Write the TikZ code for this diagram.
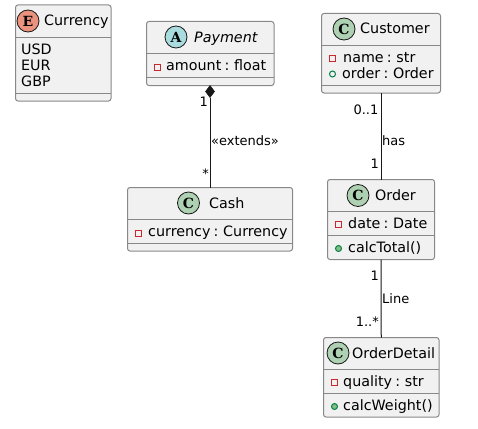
\documentclass[tikz,border=0pt]{standalone}
\usepackage{fontspec}
\setmainfont{DejaVu Sans}[WordSpace=0.7]
\newfontfamily\iconfont{DejaVu Serif}
\usetikzlibrary{shapes.geometric}
\definecolor{boxfill}{RGB}{241,241,241}
\definecolor{boxline}{RGB}{136,136,136}
\definecolor{inkline}{RGB}{24,24,24}
\definecolor{enumicon}{RGB}{235,147,127}
\definecolor{absicon}{RGB}{169,220,223}
\definecolor{classicon}{RGB}{173,209,178}
\definecolor{privred}{RGB}{200,41,48}
\definecolor{pubgreen}{RGB}{3,128,72}
\definecolor{pubfill}{RGB}{132,190,132}
\tikzset{
  classbox/.style={draw=boxline,fill=boxfill,line width=1pt,rounded corners=2.5pt,inner sep=0pt,outer sep=0pt},
  divider/.style={draw=boxline,line width=1pt},
  icon/.style={circle,draw=inkline,line width=0.8pt,minimum size=22pt,inner sep=0pt,font=\iconfont\bfseries\fontsize{14}{16}\selectfont},
  title/.style={anchor=base west,inner sep=0pt,font=\fontsize{14.3}{16}\selectfont,text=black},
  member/.style={title},
  tag/.style={anchor=base east,inner sep=0pt,font=\fontsize{13}{15}\selectfont,text=black},
  linktext/.style={anchor=base west,inner sep=0pt,font=\fontsize{13}{15}\selectfont,text=black},
  privmark/.style={rectangle,draw=privred,line width=1pt,minimum size=6pt,inner sep=0pt},
  pubmark/.style={circle,draw=pubgreen,line width=1pt,minimum size=6pt,inner sep=0pt},
  methmark/.style={pubmark,fill=pubfill},
  link/.style={draw=inkline,line width=1pt},
}
\begin{document}
\begin{tikzpicture}[x=1pt,y=-1pt]
  \useasboundingbox (0,0) rectangle (478,428);
  % enum
  \node[classbox,minimum width=95.5pt,minimum height=96pt] (currency) at (63.25,53) {};
  \draw[divider] (15.5,37.5) -- (111,37.5);
  \draw[divider] (15.5,93) -- (111,93);
  \node[icon,fill=enumicon] (currencyicon) at (28,21) {E};
  \node[title] (currencyname) at (44,26) {Currency};
  \node[member] (usd) at (21,54) {USD};
  \node[member] (eur) at (21,70.3) {EUR};
  \node[member] (gbp) at (21,86.7) {GBP};
  % abstract class
  \node[classbox,minimum width=127.5pt,minimum height=64pt] (payment) at (210.25,53.5) {};
  \draw[divider] (146.5,53.5) -- (274,53.5);
  \draw[divider] (146.5,77) -- (274,77);
  \node[icon,fill=absicon] (paymenticon) at (176,37) {A};
  \node[title,font=\itshape\fontsize{14.3}{16}\selectfont] (paymentname) at (194,42) {Payment};
  \node[privmark] (amountmark) at (157.5,67.5) {};
  \node[member] (amount) at (166,70) {amount : float};
  % cash
  \node[classbox,minimum width=165pt,minimum height=63.5pt] (cash) at (210,219.25) {};
  \draw[divider] (127.5,219.5) -- (292.5,219.5);
  \draw[divider] (127.5,243.5) -- (292.5,243.5);
  \node[icon,fill=classicon] (cashicon) at (188.5,203) {C};
  \node[title] (cashname) at (209,208) {Cash};
  \node[privmark] (cashmark) at (138.5,233.5) {};
  \node[member] (cashcurrency) at (148,236.7) {currency : Currency};
  % customer
  \node[classbox,minimum width=119pt,minimum height=79.5pt] (customer) at (381,53.25) {};
  \draw[divider] (321.5,45.5) -- (440.5,45.5);
  \draw[divider] (321.5,85) -- (440.5,85);
  \node[icon,fill=classicon] (customericon) at (344,29) {C};
  \node[title] (customername) at (360,34) {Customer};
  \node[privmark] (namemark) at (332.5,58.5) {};
  \node[member] (name) at (343,62) {name : str};
  \node[pubmark] (ordermark) at (332.5,74) {};
  \node[member] (orderfield) at (342,78) {order : Order};
  % order
  \node[classbox,minimum width=107pt,minimum height=80pt] (order) at (381,219.5) {};
  \draw[divider] (327.5,211.5) -- (434.5,211.5);
  \draw[divider] (327.5,235.5) -- (434.5,235.5);
  \node[icon,fill=classicon] (ordericon) at (358,195.5) {C};
  \node[title] (ordername) at (375,200) {Order};
  \node[privmark] (datemark) at (338.5,224.5) {};
  \node[member] (date) at (348,228.3) {date : Date};
  \node[methmark] (totalmark) at (338.5,248.5) {};
  \node[member] (total) at (348,252.3) {calcTotal()};
  % order detail
  \node[classbox,minimum width=115.5pt,minimum height=79.5pt] (detail) at (381.25,377.25) {};
  \draw[divider] (323.5,369.5) -- (439,369.5);
  \draw[divider] (323.5,393.5) -- (439,393.5);
  \node[icon,fill=classicon] (detailicon) at (338,353) {C};
  \node[title] (detailname) at (352,358) {OrderDetail};
  \node[privmark] (qualitymark) at (334.5,382.5) {};
  \node[member] (quality) at (343,386) {quality : str};
  \node[methmark] (weightmark) at (334.5,406.5) {};
  \node[member] (weight) at (343,410.7) {calcWeight()};
  % links
  \node[diamond,fill=inkline,draw=inkline,line width=0.5pt,minimum width=9pt,minimum height=12pt,inner sep=0pt,outer sep=0pt,anchor=north] (partof) at (210,85.5) {};
  \draw[link] (partof.south) -- (partof.south |- cash.north);
  \draw[link] (customer.south) -- (order.north);
  \draw[link] (order.south) -- (detail.north);
  % labels
  \node[tag] (paymentone) at (208,106) {1};
  \node[linktext] (extends) at (211,145) {«extends»};
  \node[tag] (cashmany) at (209,178) {*};
  \node[tag] (customerrange) at (378.5,114) {0..1};
  \node[linktext] (has) at (382,145) {has};
  \node[tag] (orderone) at (379,168) {1};
  \node[tag] (ordertop) at (379,280) {1};
  \node[linktext] (line) at (382,303) {Line};
  \node[tag] (detailrange) at (379,326.7) {1..*};
\end{tikzpicture}
\end{document}
